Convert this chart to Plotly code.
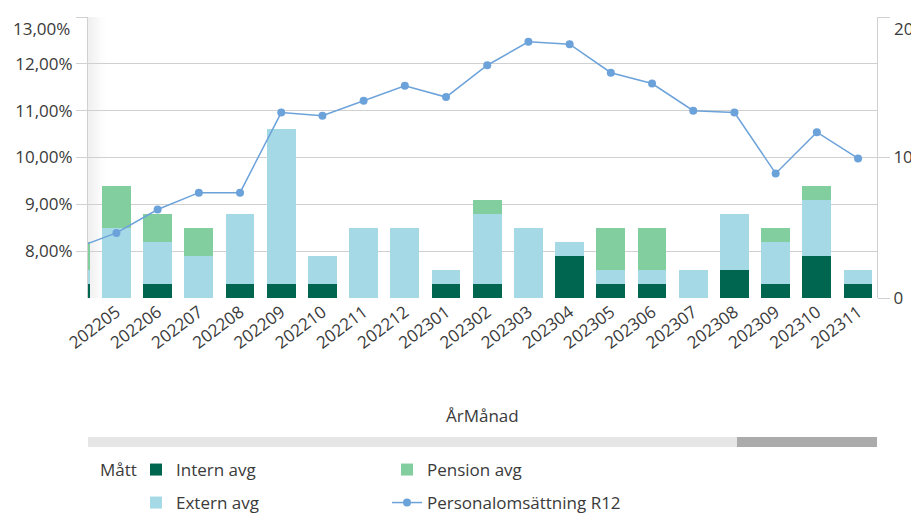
import plotly.graph_objects as go

months = ["202204", "202205", "202206", "202207", "202208", "202209", "202210", "202211",
          "202212", "202301", "202302", "202303", "202304", "202305", "202306", "202307",
          "202308", "202309", "202310", "202311"]
intern_avg = [1, 0, 1, 0, 1, 1, 1, 0, 0, 1, 1, 0, 3, 1, 1, 0, 2, 1, 3, 1]
extern_avg = [1, 5, 3, 3, 5, 11, 2, 5, 5, 1, 5, 5, 1, 1, 1, 2, 4, 3, 4, 1]
pension_avg = [2, 3, 2, 2, 0, 0, 0, 0, 0, 0, 1, 0, 0, 3, 3, 0, 0, 1, 1, 0]
personal_r12 = [8.06, 8.39, 8.89, 9.25, 9.25, 10.96, 10.89, 11.21, 11.53, 11.29, 11.97,
                12.47, 12.42, 11.81, 11.58, 11.00, 10.96, 9.66, 10.54, 9.98]
pct_ticks = [8, 9, 10, 11, 12, 13]
pct_labels = ["8,00%", "9,00%", "10,00%", "11,00%", "12,00%", ""]
pct_top_label = "13,00%"
cnt_ticks = [0, 10, 20]
cnt_labels = ["0", "10", ""]
cnt_top_label = "20"

C_INTERN = "#00664F"
C_EXTERN = "#A6D9E6"
C_PENSION = "#83CE9E"
C_LINE = "#6CA2DA"
TXT = "#3a3a3a"
GRID = "#D0D0D0"
FONT = "Segoe UI, Open Sans, sans-serif"

fig = go.Figure()
fig.add_trace(go.Bar(x=months, y=intern_avg, name="Intern avg", marker_color=C_INTERN,
                     marker_line_width=0, yaxis="y", legend="legend", legendrank=1))
fig.add_trace(go.Bar(x=months, y=extern_avg, name="Extern avg", marker_color=C_EXTERN,
                     marker_line_width=0, yaxis="y", legend="legend2", legendrank=3))
fig.add_trace(go.Bar(x=months, y=pension_avg, name="Pension avg", marker_color=C_PENSION,
                     marker_line_width=0, yaxis="y", legend="legend", legendrank=2))
fig.add_trace(go.Scatter(x=months, y=personal_r12, name="Personalomsättning R12",
                         mode="lines+markers", line=dict(color=C_LINE, width=1.5),
                         marker=dict(color=C_LINE, size=8), yaxis="y2",
                         legend="legend2", legendrank=4))

# page has an 8px body margin: the figure is drawn 8px right/down
OFF = 8
W, H = 919 - OFF, 514 - OFF
PL, PR, PT, PB = 88, 877, 17, 298           # plot area in page pixels
PW, PH = PR - PL, PB - PT


def px(x):  # page x -> paper x
    return (x - PL) / PW


def py(y):  # page y -> paper y
    return (PB - y) / PH


def cy(y):  # page y -> container y
    return 1 - (y - OFF) / H


shapes = []
for i, a in enumerate([0.06, 0.05, 0.04, 0.03, 0.02, 0.012, 0.006]):
    shapes.append(dict(type="rect", xref="paper", yref="paper",
                       x0=(i * 2.5) / PW, x1=((i + 1) * 2.5) / PW, y0=0, y1=1,
                       fillcolor=f"rgba(0,0,0,{a})", line_width=0, layer="below"))
shapes.append(dict(type="rect", xref="paper", yref="paper", x0=0, x1=1,
                   y0=py(447), y1=py(437), fillcolor="#E6E6E6", line_width=0))
shapes.append(dict(type="rect", xref="paper", yref="paper", x0=px(737), x1=1,
                   y0=py(447), y1=py(437), fillcolor="#ABABAB", line_width=0))

FS = 17
fig.update_layout(
    width=W, height=H,
    margin=dict(l=PL - OFF, r=W - (PR - OFF), t=PT - OFF, b=H - (PB - OFF), autoexpand=False),
    paper_bgcolor="white", plot_bgcolor="white",
    barmode="stack", bargap=0.3,
    font=dict(family=FONT, size=FS, color=TXT),
    xaxis=dict(type="category", range=[0.31, 19.46], tickangle=-37, automargin=False,
               showgrid=False, showline=False, ticks="", tickfont=dict(size=FS, color=TXT)),
    yaxis=dict(range=[0, 20], side="right", tickvals=cnt_ticks, ticktext=cnt_labels,
               showgrid=False, automargin=False,
               showline=True, linecolor=GRID, ticks="outside", ticklen=12,
               tickcolor=GRID, zeroline=False, tickfont=dict(size=FS, color=TXT)),
    yaxis2=dict(range=[7, 13], side="left", overlaying="y", tickvals=pct_ticks, automargin=False,
                ticktext=pct_labels, showgrid=True, gridcolor=GRID, showline=True,
                linecolor=GRID, ticks="outside", ticklen=11, tickcolor=GRID,
                zeroline=False, tickfont=dict(size=FS, color=TXT)),
    legend=dict(orientation="h", x=px(136), xanchor="left",
                yref="container", y=cy(470), yanchor="middle",
                font=dict(size=FS, color=TXT), entrywidth=206, traceorder="normal",
                bgcolor="rgba(0,0,0,0)"),
    legend2=dict(orientation="h", x=px(136), xanchor="left",
                 yref="container", y=cy(503), yanchor="middle",
                 font=dict(size=FS, color=TXT), entrywidth=206, traceorder="normal",
                 bgcolor="rgba(0,0,0,0)"),
    shapes=shapes,
    annotations=[
        dict(text="ÅrMånad", xref="paper", yref="paper", x=0.5, y=py(415),
             showarrow=False, font=dict(size=FS, color=TXT), xanchor="center", yanchor="middle"),
        dict(text="Mått", xref="paper", yref="paper", x=px(98), y=py(469),
             showarrow=False, font=dict(size=FS, color=TXT), xanchor="left", yanchor="middle"),
        dict(text=pct_top_label, xref="paper", yref="paper", x=px(72), y=py(29),
             showarrow=False, font=dict(size=FS, color=TXT), xanchor="right", yanchor="middle"),
        dict(text=cnt_top_label, xref="paper", yref="paper", x=px(892), y=py(29),
             showarrow=False, font=dict(size=FS, color=TXT), xanchor="left", yanchor="middle"),
    ],
)

fig.write_html("out.html")
